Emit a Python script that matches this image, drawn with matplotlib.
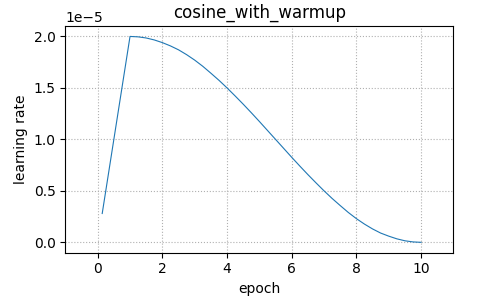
import numpy as np
import matplotlib
matplotlib.use("Agg")
import matplotlib.pyplot as plt

# values (learning rate in units of 1e-5)
epoch = [0.14, 1.0, 1.25, 1.5, 1.75, 2.0, 2.25, 2.5, 2.75, 3.0, 3.25, 3.5,
         3.75, 4.0, 4.25, 4.5, 4.75, 5.0, 5.25, 5.5, 5.75, 6.0, 6.25, 6.5,
         6.75, 7.0, 7.25, 7.5, 7.75, 8.0, 8.25, 8.5, 8.75, 9.0, 9.25, 9.5,
         9.75, 10.0]
lr = [0.28, 2.0, 1.996, 1.985, 1.966, 1.94, 1.908, 1.87, 1.823, 1.77, 1.71,
      1.643, 1.574, 1.5, 1.422, 1.342, 1.259, 1.174, 1.087, 1.0, 0.913,
      0.826, 0.741, 0.658, 0.578, 0.5, 0.426, 0.357, 0.29, 0.23, 0.177,
      0.13, 0.09, 0.06, 0.034, 0.015, 0.004, 0.0]
lr = np.array(lr) * 1e-5

fig = plt.figure(figsize=(4.95, 3.04), dpi=100)
ax = fig.add_axes([0.132, 0.169, 0.784, 0.745])
ax.plot(epoch, lr, color='#1f77b4', linewidth=0.8)
ax.set_xlim(-1.0, 11.0)
ax.grid(True, linestyle=':')
ax.set_title('cosine_with_warmup')
ax.set_xlabel('epoch')
ax.set_ylabel('learning rate')
fig.savefig('out.png', dpi=100)
